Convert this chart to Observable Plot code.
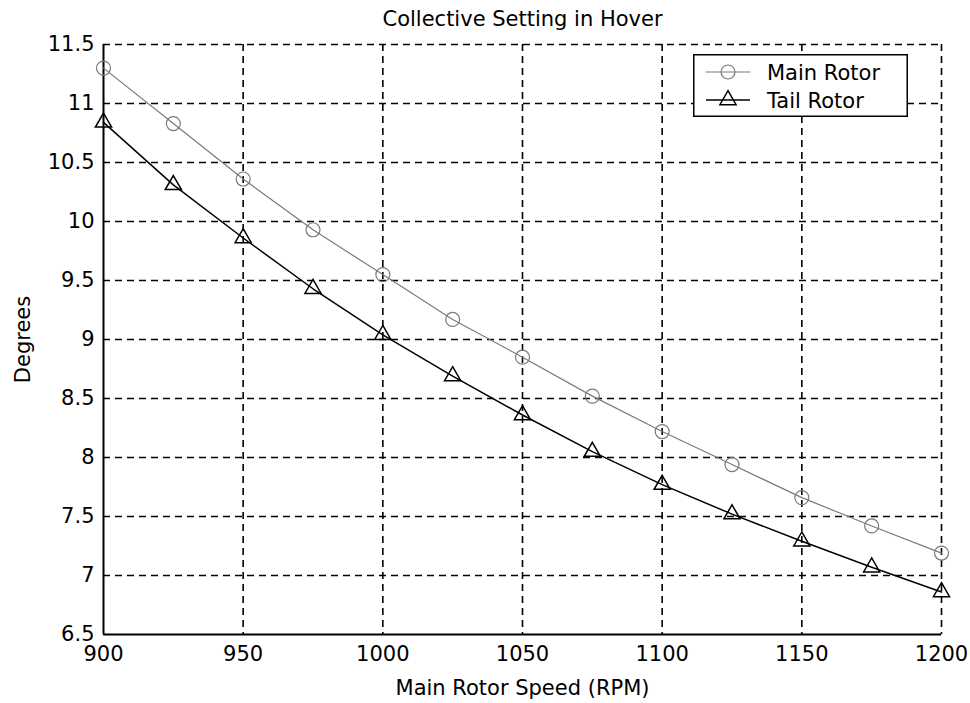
<!DOCTYPE html>
<html>
<head>
<meta charset="utf-8">
<script src="https://cdn.jsdelivr.net/npm/d3@7"></script>
<script src="https://cdn.jsdelivr.net/npm/@observablehq/plot@0.6"></script>
<style>
  html, body { margin: 0; padding: 0; background: white; }
  #wrap { position: relative; width: 970px; height: 703px; font-family: "DejaVu Sans", sans-serif; }
  #legend { position: absolute; left: 693px; top: 54px; }
</style>
</head>
<body>
<div id="wrap"></div>
<script>
// ---- data ----
const rpm = [900, 925, 950, 975, 1000, 1025, 1050, 1075, 1100, 1125, 1150, 1175, 1200];
const mainRotor = [11.30, 10.83, 10.36, 9.93, 9.55, 9.17, 8.85, 8.52, 8.22, 7.94, 7.66, 7.42, 7.19];
const tailRotor = [10.84, 10.31, 9.86, 9.43, 9.04, 8.69, 8.36, 8.05, 7.77, 7.52, 7.29, 7.07, 6.86];
const seriesNames = ["Main Rotor", "Tail Rotor"];
const xTicks = [900, 950, 1000, 1050, 1100, 1150, 1200];
const yTicks = [6.5, 7, 7.5, 8, 8.5, 9, 9.5, 10, 10.5, 11, 11.5];
const titleText = "Collective Setting in Hover";
const xLabel = "Main Rotor Speed (RPM)";
const yLabel = "Degrees";

const mainData = rpm.map((x, i) => ({x, y: mainRotor[i]}));
const tailData = rpm.map((x, i) => ({x, y: tailRotor[i]}));

const xDomain = [xTicks[0], xTicks[xTicks.length - 1]];
const yDomain = [yTicks[0], yTicks[yTicks.length - 1]];
const mainColor = "#7a7a7a";
const dash = "7,5";

const chart = Plot.plot({
  width: 970,
  height: 703,
  marginLeft: 103,
  marginRight: 29,
  marginTop: 44,
  marginBottom: 69,
  style: { fontFamily: "DejaVu Sans, sans-serif", fontSize: "21px", background: "white", color: "black" },
  x: { domain: xDomain, ticks: xTicks },
  y: { domain: yDomain, ticks: yTicks },
  marks: [
    Plot.ruleX(xTicks.slice(1), { stroke: "black", strokeWidth: 1.6, strokeDasharray: dash }),
    Plot.ruleY(yTicks.slice(1), { stroke: "black", strokeWidth: 1.6, strokeDasharray: dash }),
    Plot.ruleX([xDomain[0]], { stroke: "black", strokeWidth: 2 }),
    Plot.ruleY([yDomain[0]], { stroke: "black", strokeWidth: 2 }),
    Plot.axisX({ ticks: xTicks, tickSize: 0, tickPadding: 12, tickFormat: d => String(d),
      label: xLabel, labelAnchor: "center", labelArrow: "none", labelOffset: 60, fontSize: 21 }),
    Plot.axisY({ ticks: yTicks, tickSize: 0, tickPadding: 9, tickFormat: d => String(d),
      label: yLabel, labelAnchor: "center", labelArrow: "none", labelOffset: 88, fontSize: 21 }),
    Plot.line(mainData, { x: "x", y: "y", stroke: mainColor, strokeWidth: 1.2 }),
    Plot.dot(mainData, { x: "x", y: "y", r: 7, stroke: mainColor, strokeWidth: 1.2, fill: "none" }),
    Plot.line(tailData, { x: "x", y: "y", stroke: "black", strokeWidth: 1.5 }),
    Plot.dot(tailData, { x: "x", y: "y", symbol: "triangle", r: 6, stroke: "black", strokeWidth: 1.5, fill: "none" }),
    Plot.text([titleText], { frameAnchor: "top", dy: -33, fontSize: 21, fill: "black" })
  ]
});
document.getElementById("wrap").appendChild(chart);

// ---- legend (overlay) ----
const lw = 215, lh = 63;
const leg = d3.select("#wrap").append("svg")
  .attr("id", "legend").attr("width", lw).attr("height", lh)
  .style("font-family", "DejaVu Sans, sans-serif");
leg.append("rect").attr("x", 0.75).attr("y", 0.75).attr("width", lw - 1.5).attr("height", lh - 1.5)
  .attr("fill", "white").attr("stroke", "black").attr("stroke-width", 1.5);
const rows = [
  { name: seriesNames[0], color: mainColor, sym: d3.symbolCircle, size: Math.PI * 49, sw: 1.2 },
  { name: seriesNames[1], color: "black", sym: d3.symbolTriangle, size: Math.PI * 36, sw: 1.5 }
];
rows.forEach((r, i) => {
  const cy = 18 + i * 28;
  leg.append("line").attr("x1", 13).attr("x2", 57).attr("y1", cy).attr("y2", cy)
    .attr("stroke", r.color).attr("stroke-width", r.sw);
  leg.append("path").attr("d", d3.symbol(r.sym, r.size)()).attr("transform", `translate(35,${cy})`)
    .attr("fill", "none").attr("stroke", r.color).attr("stroke-width", r.sw);
  leg.append("text").attr("x", 74).attr("y", cy).attr("dy", "0.36em").attr("font-size", 21)
    .attr("fill", "black").text(r.name);
});
</script>
</body>
</html>
